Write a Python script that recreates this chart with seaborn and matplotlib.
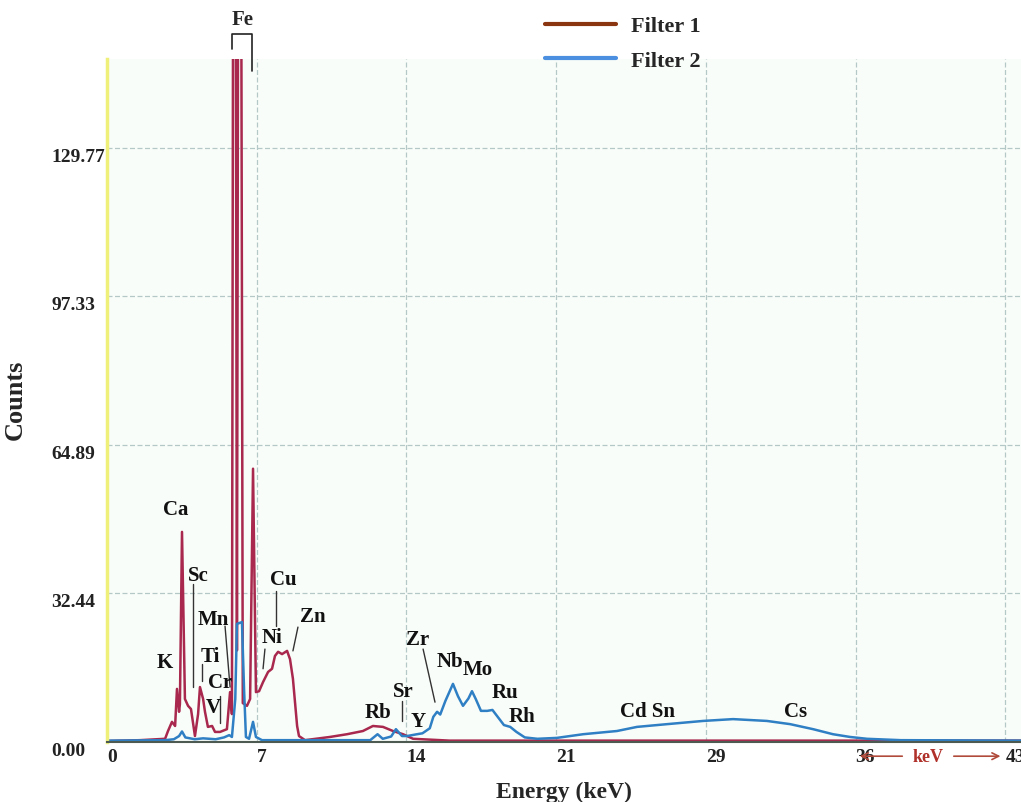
import numpy as np
import pandas as pd
import matplotlib
matplotlib.use("Agg")
import matplotlib.pyplot as plt
import seaborn as sns
from matplotlib.lines import Line2D

# # Spectrum data (energy in keV, counts)

#Filter 1 (red)
f1_kev = [0.0, 1.58, 2.78, 2.92, 3.11, 3.26, 3.35, 3.45, 3.49, 3.59, 3.73, 3.88, 4.02, 4.21,
          4.36, 4.45, 4.60, 4.69, 4.83, 5.03, 5.17, 5.41, 5.74, 5.89, 5.98, 6.04, 6.16, 6.22,
          6.28, 6.42, 6.50, 6.70, 6.85, 6.99, 7.13, 7.28, 7.47, 7.71, 7.90, 8.04, 8.19, 8.38,
          8.62, 8.76, 8.90, 9.10, 9.19, 9.48, 10.67, 11.49, 12.25, 12.73, 13.21, 13.69, 14.17,
          14.65, 16.4, 21.0, 30.0, 43.75]
f1_counts = [0.2, 0.4, 0.7, 2.4, 4.4, 3.5, 11.6, 6.6, 8.3, 45.9, 9.4, 7.9, 7.2, 1.3,
             6.1, 12.0, 9.4, 6.6, 3.3, 3.5, 2.2, 2.2, 2.8, 10.9, 6.1, 180, 180, 20,
             180, 180, 8.5, 7.9, 9.4, 59.7, 10.9, 11.1, 13.1, 15.3, 16.0, 18.8, 19.7, 19.2,
             19.9, 18.1, 13.8, 3.5, 1.3, 0.4, 1.1, 1.7, 2.4, 3.5, 3.3, 2.4, 1.7,
             0.7, 0.3, 0.3, 0.3, 0.3]

#Filter 2 (blue)
f2_kev = [0.0, 2.78, 3.2, 3.45, 3.59, 3.75, 4.2, 4.6, 5.2, 5.6, 5.85, 5.98, 6.14, 6.22,
          6.46, 6.56, 6.65, 6.80, 6.99, 7.13, 7.42, 12.6, 12.95, 13.2, 13.6, 13.83, 14.12,
          14.36, 14.84, 15.1, 15.45, 15.62, 15.80, 15.95, 16.2, 16.56, 16.8, 17.04, 17.3,
          17.47, 17.65, 17.9, 18.2, 18.45, 18.7, 19.0, 19.3, 19.6, 20.0, 20.6, 21.54, 22.79,
          24.41, 25.37, 26.81, 28.53, 29.97, 31.59, 32.70, 33.80, 34.75, 35.57, 36.38, 38.0,
          43.75]
f2_counts = [0.3, 0.4, 0.6, 1.3, 2.3, 1.0, 0.6, 0.8, 0.6, 1.0, 1.5, 1.1, 9.4, 25.8,
             26.2, 11.6, 1.1, 0.7, 4.4, 1.1, 0.4, 0.4, 1.7, 0.7, 1.2, 2.8, 1.3,
             1.3, 1.7, 1.9, 3.0, 5.5, 6.6, 6.0, 9.0, 12.7, 10.0, 7.9, 9.5,
             11.1, 9.4, 6.8, 6.8, 7.0, 5.5, 3.7, 3.3, 2.2, 1.0, 0.7, 0.9, 1.7,
             2.4, 3.3, 3.9, 4.6, 5.0, 4.6, 3.9, 2.8, 1.7, 1.1, 0.7, 0.4,
             0.3]

#Axis ticks
x_ticks = np.linspace(0, 43, 7)
x_labels = ["0", "7", "14", "21", "29", "36", "43"]
y_ticks = [0.0, 32.44, 64.89, 97.33, 129.77]
y_labels = ["0.00", "32.44", "64.89", "97.33", "129.77"]

#Element labels: (text, x, y)
elements = [("Ca", 3.30, 50.9), ("K", 2.78, 17.5), ("Sc", 4.36, 36.5), ("Ti", 4.93, 18.8),
            ("Cr", 5.41, 13.1), ("V", 5.07, 7.6), ("Mn", 5.07, 26.9), ("Ni", 7.90, 22.9),
            ("Cu", 8.43, 35.6), ("Zn", 9.86, 27.5), ("Rb", 12.97, 6.6), ("Sr", 14.17, 11.1),
            ("Y", 14.89, 4.6), ("Zr", 14.89, 22.5), ("Nb", 16.42, 17.7), ("Mo", 17.76, 16.0),
            ("Ru", 19.05, 10.9), ("Rh", 19.87, 5.7), ("Cd Sn", 25.85, 6.8), ("Cs", 32.94, 6.8)]

#Leader lines: (x0, y0, x1, y1)
leaders = [(4.12, 34.5, 4.12, 12.0), (4.55, 17.0, 4.55, 13.3), (5.41, 10.1, 5.41, 4.2),
           (5.65, 25.3, 5.89, 12.0), (7.56, 20.3, 7.47, 16.0), (8.09, 33.0, 8.09, 25.3),
           (9.14, 25.1, 8.90, 19.9), (14.12, 9.0, 14.12, 4.6), (15.13, 20.3, 15.70, 8.7)]

df1 = pd.DataFrame({"Energy": f1_kev, "Counts": f1_counts})
df2 = pd.DataFrame({"Energy": f2_kev, "Counts": f2_counts})

# # Plot
sns.set_theme(style = "white")
plt.rcParams["font.family"] = ["Liberation Serif", "DejaVu Serif"]
plt.rcParams["font.weight"] = "bold"

fig = plt.figure(figsize = (10.21, 8.03), dpi = 100)
ax = fig.add_axes([107 / 1021, 60 / 803, 914 / 1021, 683 / 803])
ax.set_facecolor("#f9fdf9")

red = "#a8284e"
blue = "#2f7fc4"
sns.lineplot(data = df1, x = "Energy", y = "Counts", ax = ax, color = red, lw = 1.8,
             estimator = None, sort = False)
sns.lineplot(data = df2, x = "Energy", y = "Counts", ax = ax, color = blue, lw = 1.8,
             estimator = None, sort = False)

ax.set_xlim(0, 43.75)
ax.set_ylim(0, 149.2)

#Ticks and grid
ax.set_xticks(x_ticks, x_labels)
ax.set_yticks(y_ticks, y_labels)
ax.grid(True, color = "#b5c8c8", linestyle = (0, (4, 2)), linewidth = 0.9)
ax.tick_params(axis = "x", direction = "in", length = 10, width = 4, color = "#eef290",
               pad = 4, labelsize = 14)
ax.tick_params(axis = "y", length = 0, pad = 40, labelsize = 14)
for lab in ax.get_xticklabels():
    lab.set_horizontalalignment("left")
    lab.set_fontweight("bold")
    lab.set_color("#222222")
for lab in ax.get_yticklabels():
    lab.set_horizontalalignment("left")
    lab.set_verticalalignment("top")
    lab.set_fontweight("bold")
    lab.set_color("#222222")

for side in ["top", "right"]:
    ax.spines[side].set_visible(False)
ax.spines["left"].set_color("#eef07a")
ax.spines["left"].set_linewidth(2.5)
ax.spines["bottom"].set_color("#4d5a52")
ax.spines["bottom"].set_linewidth(1.5)

ax.set_xlabel("Energy (keV)", fontsize = 17, fontweight = "bold", labelpad = 12)
ax.set_ylabel("Counts", fontsize = 19, fontweight = "bold")
ax.yaxis.set_label_coords(-0.088, 0.502)

#Element labels
for name, x, y in elements:
    ax.text(x, y, name, ha = "center", va = "center", fontsize = 15, fontweight = "bold",
            color = "#111111")
for x0, y0, x1, y1 in leaders:
    ax.plot([x0, x1], [y0, y1], color = "#333333", lw = 1)

#Fe bracket above the plot
ax.plot([5.98, 5.98, 6.94, 6.94], [151.4, 154.7, 154.7, 146.6], color = "#222222", lw = 1.2,
        clip_on = False)
ax.text(6.51, 158.0, "Fe", ha = "center", va = "center", fontsize = 15, fontweight = "bold")

#keV arrows
ax.annotate("", xy = (35.9, -3.1), xytext = (38.2, -3.1), xycoords = "data",
            arrowprops = dict(arrowstyle = "->", color = "#b04a3a", lw = 1.2), annotation_clip = False)
ax.annotate("", xy = (42.9, -3.1), xytext = (40.4, -3.1), xycoords = "data",
            arrowprops = dict(arrowstyle = "->", color = "#b04a3a", lw = 1.2), annotation_clip = False)
ax.text(39.3, -3.1, "keV", ha = "center", va = "center", fontsize = 13, fontweight = "bold",
        color = "#b0302a")

#Legend
handles = [Line2D([], [], color = "#8b3510", lw = 3), Line2D([], [], color = "#4a8fe0", lw = 3)]
fig.legend(handles, ["Filter 1", "Filter 2"], loc = "upper left", bbox_to_anchor = (0.514, 1.004),
           frameon = False, handlelength = 3.2, handletextpad = 0.7, labelspacing = 0.62,
           prop = {"size": 16, "weight": "bold"})

fig.savefig("out.png", dpi = 100)
